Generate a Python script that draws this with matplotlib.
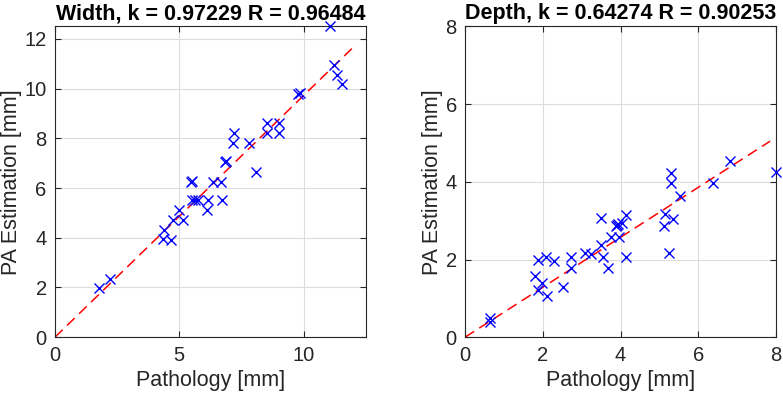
from matplotlib import pyplot as plt

plt.rcParams['font.family'] = ['Liberation Sans', 'DejaVu Sans']

# width: pathology vs PA estimation [mm]
width_path = [1.78, 2.21, 4.35, 4.68, 4.39, 4.75, 5.15, 4.98, 5.52, 5.62,
              5.75, 6.14, 6.73, 6.12, 5.48, 5.52, 6.36, 6.69, 6.82, 6.86,
              7.14, 7.20, 7.80, 8.10, 8.53, 8.53, 9.01, 9.01, 9.78, 9.86,
              11.05, 11.22, 11.35, 11.53]
width_pa = [1.97, 2.36, 3.94, 3.92, 4.33, 4.72, 4.72, 5.10, 5.50, 5.50,
            5.50, 5.50, 5.50, 5.10, 6.26, 6.28, 6.26, 6.26, 7.06, 7.08,
            7.83, 8.22, 7.82, 6.66, 8.62, 8.23, 8.62, 8.23, 9.80, 9.84,
            12.5, 10.93, 10.56, 10.18]
width_k = 0.97229
width_r = 0.96484
width_fit_x = [0, 12]

# depth: pathology vs PA estimation [mm]
depth_path = [0.63, 0.65, 1.79, 1.88, 2.08, 2.30, 1.99, 1.88, 2.12, 2.52,
              2.73, 2.73, 3.09, 3.23, 3.50, 3.50, 3.54, 3.68, 3.76, 3.88,
              3.94, 3.92, 3.96, 4.03, 4.15, 4.15, 5.14, 5.12, 5.36, 5.25,
              5.29, 5.31, 5.52, 6.37, 6.81, 8.0]
depth_pa = [0.49, 0.39, 1.57, 1.98, 2.07, 1.97, 1.39, 1.22, 1.06, 1.28,
            2.06, 1.77, 2.17, 2.15, 3.06, 2.37, 2.06, 1.77, 2.58, 2.85,
            2.92, 2.88, 2.58, 2.95, 3.14, 2.06, 3.18, 2.86, 3.05, 2.16,
            4.23, 3.96, 3.64, 3.96, 4.54, 4.25]
depth_k = 0.64274
depth_r = 0.90253
depth_fit_x = [0, 7.85]

TXT = '#262626'


def panel(ax, xs, ys, k, r, fit_x, name, lim, ticks):
    # fitted line y = k*x, then the measurements
    ax.plot(fit_x, [k * x for x in fit_x], color='red', lw=1.1,
            linestyle=(0, (7, 4)), zorder=2)
    ax.plot(xs, ys, linestyle='none', marker='x', color='blue',
            markersize=7.8, markeredgewidth=1.0, clip_on=False, zorder=3)
    ax.set_xlim(0, lim)
    ax.set_ylim(0, lim)
    ax.set_xticks(ticks[0])
    ax.set_yticks(ticks[1])
    ax.grid(True, color='#dcdcdc', lw=0.8)
    ax.set_axisbelow(True)
    ax.tick_params(direction='in', top=True, right=True, length=4,
                   colors=TXT, labelsize=14.5, pad=6)
    for s in ax.spines.values():
        s.set_color(TXT)
        s.set_linewidth(0.8)
    ax.set_xlabel('Pathology [mm]', fontsize=15.5, color=TXT, labelpad=4)
    ax.set_ylabel('PA Estimation [mm]', fontsize=15.5, color=TXT, labelpad=2)
    ax.set_title('{}, k = {} R = {}'.format(name, k, r), fontsize=15.5,
                 fontweight='bold', color='black', pad=5)


fig = plt.figure(figsize=(7.83, 4.0), dpi=100)
ax1 = fig.add_axes([0.0702, 0.157, 0.397, 0.777])
ax2 = fig.add_axes([0.594, 0.157, 0.397, 0.777])

panel(ax1, width_path, width_pa, width_k, width_r, width_fit_x, 'Width',
      12.5, ([0, 5, 10], [0, 2, 4, 6, 8, 10, 12]))
panel(ax2, depth_path, depth_pa, depth_k, depth_r, depth_fit_x, 'Depth',
      8, ([0, 2, 4, 6, 8], [0, 2, 4, 6, 8]))

fig.savefig('out.png', dpi=100)
